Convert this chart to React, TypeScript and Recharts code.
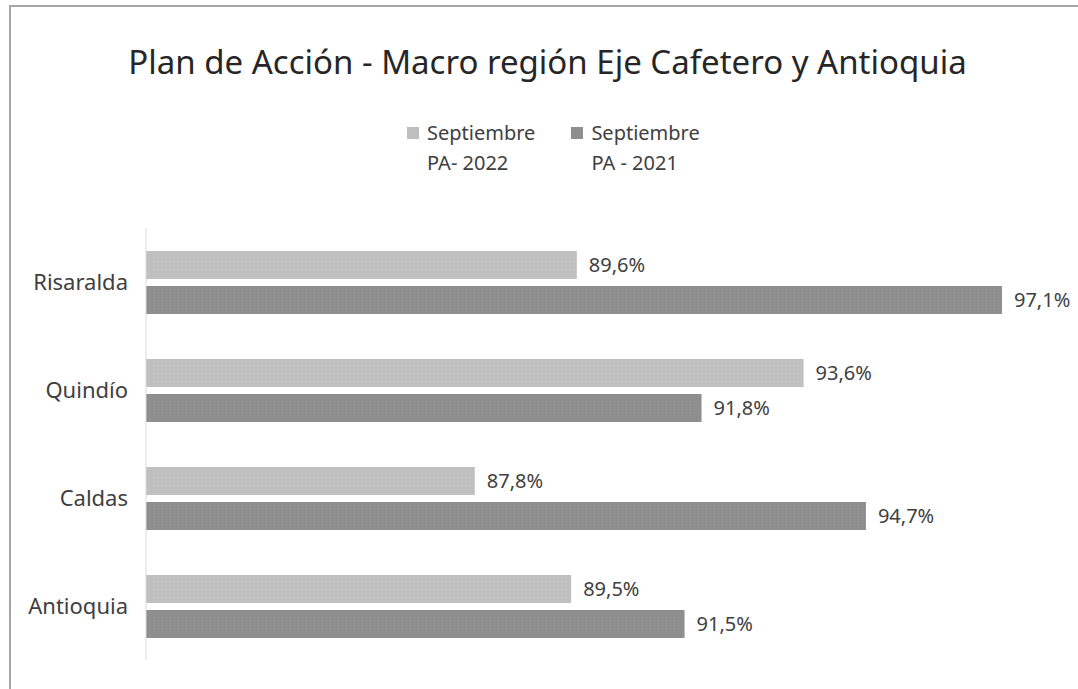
import React from 'react';
import { BarChart, Bar, XAxis, YAxis, LabelList } from 'recharts';

const regions = ['Risaralda', 'Quindío', 'Caldas', 'Antioquia'];
const pa2022 = [89.6, 93.6, 87.8, 89.5];
const pa2021 = [97.1, 91.8, 94.7, 91.5];
const seriesNames = ['Septiembre PA- 2022', 'Septiembre PA - 2021'];

const data = regions.map((name, i) => ({ name, pa2022: pa2022[i], pa2021: pa2021[i] }));

const FONT = '"Noto Sans", "Open Sans", sans-serif';
const LIGHT = '#bfbfbf';
const DARK = '#8e8e8e';

const fmt = (v: any) => `${Number(v).toFixed(1).replace('.', ',')}%`;

const LegendItem: React.FC<{ color: string; label: string }> = ({ color, label }) => {
  const [top, bottom] = label.split(/(?<=Septiembre) /);
  return (
    <div style={{ display: 'flex', alignItems: 'flex-start', marginRight: 36 }}>
      <div style={{ width: 12, height: 12, background: color, marginTop: 9, marginRight: 8 }} />
      <div style={{ lineHeight: '30px' }}>
        <div>{top}</div>
        <div>{bottom}</div>
      </div>
    </div>
  );
};

const App: React.FC = () => {
  return (
    <div style={{ position: 'absolute', left: 0, top: 0, width: 1078, height: 689, background: '#fff', fontFamily: FONT, color: '#404040' }}>
      {/* frame: only top and left edges visible in the crop */}
      <div style={{ position: 'absolute', left: 9, top: 5, width: 1069, height: 684, borderTop: '2px solid #a6a6a6', borderLeft: '2px solid #a6a6a6' }} />
      <div style={{ position: 'absolute', left: 0, width: 1095, top: 39, textAlign: 'center', fontSize: 33, lineHeight: '46px', color: '#262626' }}>
        Plan de Acción - Macro región Eje Cafetero y Antioquia
      </div>
      <div style={{ position: 'absolute', left: 407, top: 118, display: 'flex', fontSize: 20 }}>
        <LegendItem color={LIGHT} label={seriesNames[0]} />
        <LegendItem color={DARK} label={seriesNames[1]} />
      </div>
      <div style={{ position: 'absolute', left: 0, top: 0 }}>
        <BarChart
          width={1078}
          height={689}
          data={data}
          layout="vertical"
          margin={{ top: 228, right: 25, bottom: 29, left: 0 }}
          barSize={28}
          barGap={7}
        >
          <defs>
            <pattern id="texLight" width="4" height="4" patternUnits="userSpaceOnUse">
              <rect width="4" height="4" fill={LIGHT} />
              <rect x="1" y="1" width="1" height="1" fill="#c9c9c9" />
            </pattern>
            <pattern id="texDark" width="4" height="4" patternUnits="userSpaceOnUse">
              <rect width="4" height="4" fill={DARK} />
              <rect x="2" y="1" width="1" height="1" fill="#999999" />
            </pattern>
          </defs>
          <XAxis type="number" domain={[82, 98]} hide height={0} />
          <YAxis
            type="category"
            dataKey="name"
            width={146}
            axisLine={{ stroke: '#d9d9d9' }}
            tickLine={false}
            tickMargin={12}
            tick={{ fontSize: 22, fill: '#404040', fontFamily: FONT }}
          />
          <Bar dataKey="pa2022" name={seriesNames[0]} fill="url(#texLight)" isAnimationActive={false}>
            <LabelList dataKey="pa2022" position="right" offset={12} formatter={fmt} style={{ fontSize: 20, fill: '#404040', fontFamily: FONT }} />
          </Bar>
          <Bar dataKey="pa2021" name={seriesNames[1]} fill="url(#texDark)" isAnimationActive={false}>
            <LabelList dataKey="pa2021" position="right" offset={12} formatter={fmt} style={{ fontSize: 20, fill: '#404040', fontFamily: FONT }} />
          </Bar>
        </BarChart>
      </div>
    </div>
  );
};

export default App;
